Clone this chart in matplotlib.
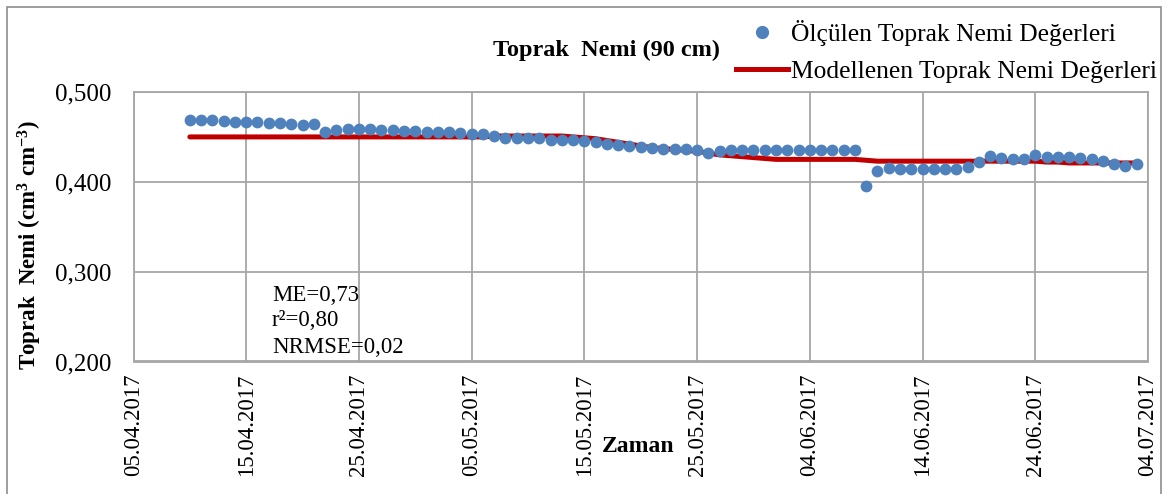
import matplotlib
matplotlib.use("Agg")
import matplotlib.pyplot as plt
from matplotlib.lines import Line2D
from matplotlib.patches import Rectangle
import pandas as pd

plt.rcParams['font.family'] = ['Liberation Serif', 'DejaVu Serif']
plt.rcParams['mathtext.fontset'] = 'custom'
plt.rcParams['mathtext.rm'] = 'Liberation Serif'
plt.rcParams['mathtext.bf'] = 'Liberation Serif:bold'
plt.rcParams['mathtext.it'] = 'Liberation Serif:italic'

# ---------------- data ----------------
start_date = "2017-04-10"
measured = [
    0.469, 0.469, 0.469, 0.468, 0.467, 0.467, 0.467, 0.466, 0.465, 0.464,
    0.463, 0.464, 0.455, 0.458, 0.459, 0.459, 0.459, 0.458, 0.458, 0.457,
    0.457, 0.456, 0.456, 0.455, 0.454, 0.453, 0.453, 0.451, 0.449, 0.449,
    0.449, 0.449, 0.447, 0.447, 0.447, 0.446, 0.444, 0.442, 0.441, 0.440,
    0.439, 0.438, 0.437, 0.437, 0.437, 0.435, 0.432, 0.434, 0.435, 0.435,
    0.435, 0.435, 0.435, 0.435, 0.435, 0.435, 0.435, 0.435, 0.435, 0.435,
    0.395, 0.412, 0.415, 0.414, 0.414, 0.414, 0.414, 0.414, 0.414, 0.416,
    0.422, 0.429, 0.427, 0.425, 0.425, 0.430, 0.428, 0.428, 0.428, 0.427,
    0.425, 0.423, 0.420, 0.418, 0.420,
]
modelled = [
    0.450, 0.450, 0.450, 0.450, 0.450, 0.450, 0.450, 0.450, 0.450, 0.450,
    0.450, 0.450, 0.450, 0.450, 0.450, 0.450, 0.450, 0.450, 0.450, 0.450,
    0.450, 0.450, 0.450, 0.450, 0.450, 0.450, 0.450, 0.451, 0.451, 0.451,
    0.451, 0.451, 0.451, 0.451, 0.450, 0.449, 0.448, 0.446, 0.444, 0.442,
    0.440, 0.438, 0.437, 0.436, 0.435, 0.434, 0.432, 0.430, 0.429, 0.428,
    0.427, 0.426, 0.425, 0.425, 0.425, 0.425, 0.425, 0.425, 0.425, 0.425,
    0.424, 0.423, 0.423, 0.423, 0.423, 0.423, 0.423, 0.423, 0.423, 0.423,
    0.423, 0.423, 0.423, 0.423, 0.423, 0.423, 0.422, 0.422, 0.421, 0.421,
    0.421, 0.421, 0.421, 0.421, 0.421,
]
x_tick_labels = ["05.04.2017", "15.04.2017", "25.04.2017", "05.05.2017", "15.05.2017",
                 "25.05.2017", "04.06.2017", "14.06.2017", "24.06.2017", "04.07.2017"]
y_ticks = [0.200, 0.300, 0.400, 0.500]
y_tick_labels = ["0,200", "0,300", "0,400", "0,500"]
stats_lines = ["ME=0,73", "r\u00b2=0,80", "NRMSE=0,02"]
title = "Toprak  Nemi (90 cm)"
legend_labels = ["Ölçülen Toprak Nemi Değerleri", "Modellenen Toprak Nemi Değerleri"]

dates = pd.date_range(start_date, periods=len(measured), freq="D")
tick_dates = pd.to_datetime(x_tick_labels, format="%d.%m.%Y")

blue = "#4F81BD"
red = "#C00000"
grid_c = "#A6A6A6"

W, H = 1169, 494
fig = plt.figure(figsize=(W / 100, H / 100), dpi=100)
fig.patches.append(Rectangle((7 / W, -0.05), 1154 / W, 1.05 - 7 / H, transform=fig.transFigure,
                             fill=False, edgecolor="#8C8C8C", lw=1.2))

ax = fig.add_axes([133.5 / W, 1 - 361.5 / H, (1148 - 133.5) / W, (361.5 - 92) / H])
ax.plot(dates, modelled, color=red, lw=3.6, solid_capstyle="round", zorder=2)
ax.scatter(dates, measured, s=72, color=blue, zorder=3, linewidths=0)

ax.set_xlim(tick_dates[0], tick_dates[-1])
ax.set_ylim(0.2, 0.5)
ax.set_xticks(tick_dates)
ax.set_xticklabels(x_tick_labels, rotation=90, fontsize=16.5)
ax.set_yticks(y_ticks)
ax.set_yticklabels(y_tick_labels, fontsize=18)
ax.tick_params(length=0)
ax.tick_params(axis="y", pad=16)
ax.tick_params(axis="x", pad=9)
ax.grid(True, color=grid_c, lw=1.3)
ax.set_axisbelow(True)
for s in ax.spines.values():
    s.set_color(grid_c)
    s.set_linewidth(1.3)

ax.set_ylabel(r"Toprak  Nemi (cm$^\mathbf{3}$ cm$^\mathbf{-3}$)", fontsize=16.5, fontweight="bold")
ax.yaxis.set_label_coords((30 - 133.5) / (1148 - 133.5), (361.5 - 245) / (361.5 - 92))
ax.set_xlabel("Zaman", fontsize=17, fontweight="bold")
ax.xaxis.set_label_coords((638 - 133.5) / (1148 - 133.5), -(447 - 361.5) / (361.5 - 92))
ax.xaxis.label.set_va("center")
ax.yaxis.label.set_va("center")

fig.text(493 / W, 1 - 50 / H, title, fontsize=17.5, fontweight="bold", va="center", ha="left")

for i, t in enumerate(stats_lines):
    ax.text(272 / W, 1 - (295 + 26 * i) / H, t, transform=fig.transFigure, fontsize=16.5,
            va="center", ha="left")

handles = [Line2D([], [], ls="none", marker="o", ms=8.5, color=blue),
           Line2D([], [], color=red, lw=3.6)]
fig.legend(handles, legend_labels, loc="upper right", bbox_to_anchor=(1167 / W, 1 - 10 / H),
           frameon=False, fontsize=18.4, handlelength=2.05, handletextpad=0.1, labelspacing=0.55,
           borderaxespad=0)

fig.savefig("out.png", dpi=100)
